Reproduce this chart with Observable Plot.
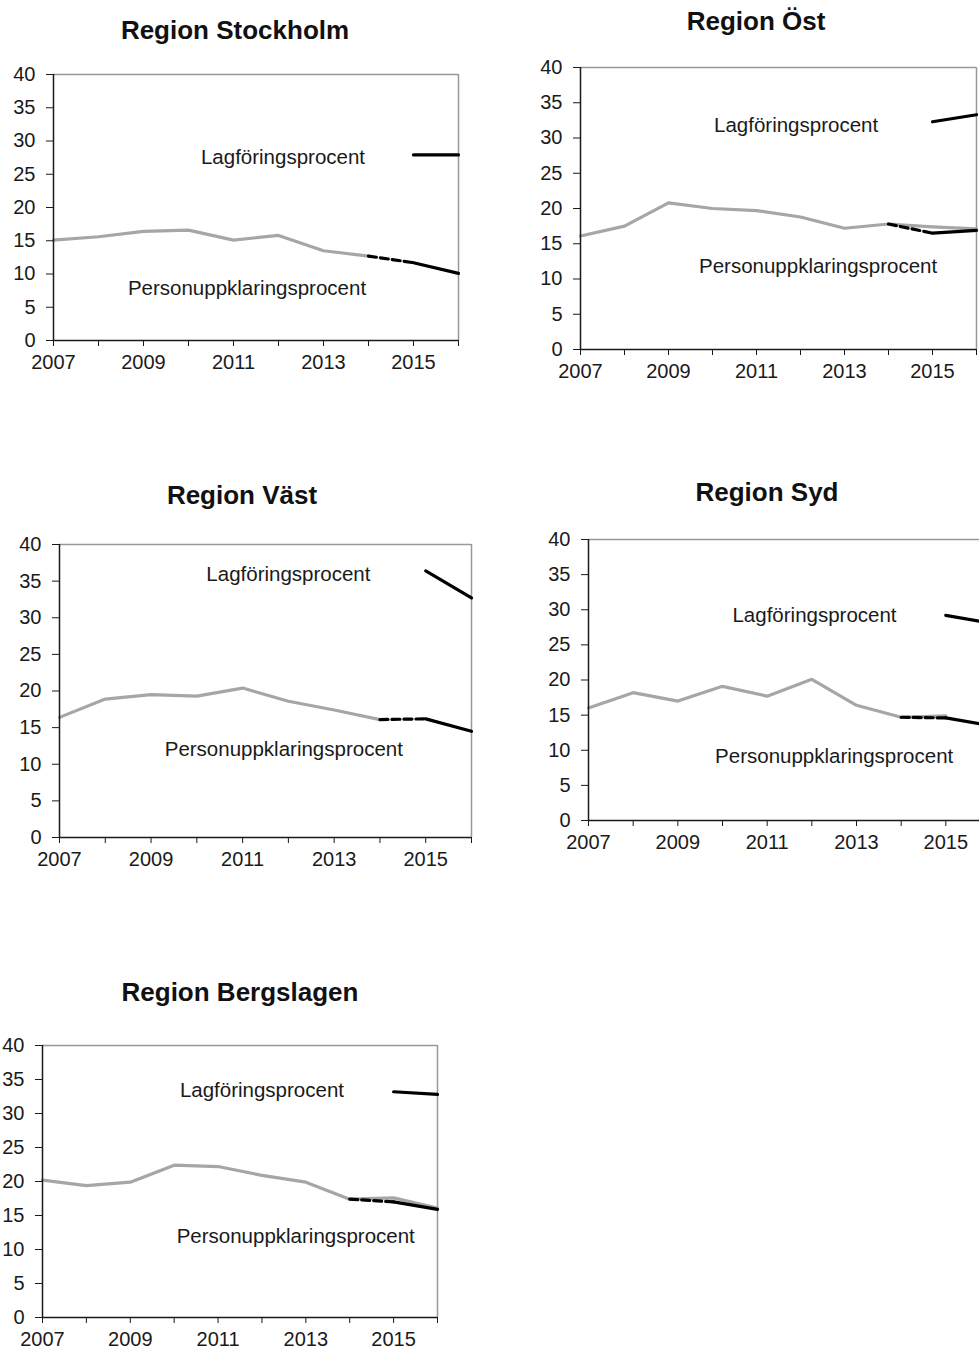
<!DOCTYPE html>
<html>
<head>
<meta charset="utf-8">
<script src="https://cdn.jsdelivr.net/npm/d3@7"></script>
<script src="https://cdn.jsdelivr.net/npm/@observablehq/plot@0.6"></script>
<style>
  html, body { margin: 0; padding: 0; background: #fff; }
  #page { position: relative; width: 979px; height: 1354px; overflow: hidden; background: #fff;
          font-family: "Liberation Sans", Arial, sans-serif; }
  .panel { position: absolute; }
  .panel svg { max-width: none !important; display: block; }
  .title { position: absolute; transform: translate(-50%, -50%); font-weight: bold; font-size: 26px;
           line-height: 26px; white-space: nowrap; color: #111; }
</style>
</head>
<body>
<div id="page"></div>
<script>
// ---------- data ----------
const years = [2007, 2008, 2009, 2010, 2011, 2012, 2013, 2014, 2015, 2016];
const newYears = [2015, 2016];
const yTicks = [0, 5, 10, 15, 20, 25, 30, 35, 40];
const regions = ["Region Stockholm", "Region Öst", "Region Väst", "Region Syd", "Region Bergslagen"];
const labelLag = "Lagföringsprocent";
const labelPers = "Personuppklaringsprocent";

// Personuppklaringsprocent, old series (grey), from 2007
const persOldStockholm = [15.1, 15.6, 16.4, 16.6, 15.1, 15.8, 13.5, 12.7];
const persOldOst       = [16.1, 17.5, 20.8, 20.0, 19.7, 18.8, 17.2, 17.8, 17.4, 17.1];
const persOldVast      = [16.4, 18.9, 19.5, 19.3, 20.4, 18.6, 17.4, 16.1];
const persOldSyd       = [16.0, 18.2, 17.0, 19.1, 17.7, 20.1, 16.4, 14.7, 14.9];
const persOldBerg      = [20.2, 19.4, 19.9, 22.4, 22.2, 20.9, 19.9, 17.4, 17.6, 16.1];

// Personuppklaringsprocent, new series (black), 2015–2016
const persNewStockholm = [11.7, 10.1];
const persNewOst       = [16.5, 16.9];
const persNewVast      = [16.2, 14.5];
const persNewSyd       = [14.6, 13.5];
const persNewBerg      = [17.0, 15.9];

// Lagföringsprocent (black), 2015–2016
const lagStockholm = [27.9, 27.9];
const lagOst       = [32.3, 33.3];
const lagVast      = [36.4, 32.7];
const lagSyd       = [29.2, 28.1];
const lagBerg      = [33.2, 32.8];

const persOld = [persOldStockholm, persOldOst, persOldVast, persOldSyd, persOldBerg];
const persNew = [persNewStockholm, persNewOst, persNewVast, persNewSyd, persNewBerg];
const lag = [lagStockholm, lagOst, lagVast, lagSyd, lagBerg];

// ---------- layout (pixel frames of each panel + label anchors in data units) ----------
const layout = [
  {left: 53,  right: 458, top: 74,   bottom: 340,  tx: 235, ty: 30,  lagAt: [2012.1, 27.3], persAt: [2011.3, 7.6]},
  {left: 580, right: 976, top: 67,   bottom: 349,  tx: 756, ty: 21,  lagAt: [2011.9, 31.5], persAt: [2012.4, 11.5]},
  {left: 59,  right: 471, top: 544,  bottom: 837,  tx: 242, ty: 495, lagAt: [2012.0, 35.6], persAt: [2011.9, 11.7]},
  {left: 588, right: 990, top: 539,  bottom: 820,  tx: 767, ty: 492, lagAt: [2012.06, 28.9], persAt: [2012.5, 8.8]},
  {left: 42,  right: 437, top: 1045, bottom: 1317, tx: 240, ty: 992, lagAt: [2012.0, 33.1], persAt: [2012.77, 11.6]}
];

const page = document.getElementById("page");
const mL = 60, mR = 20, mT = 12, mB = 45;

regions.forEach((name, i) => {
  const L = layout[i];
  const oldData = persOld[i].map((v, k) => ({year: years[k], value: v}));
  const i2014 = years.indexOf(2014);
  const linkData = [
    {year: 2014, value: persOld[i][i2014]},
    {year: newYears[0], value: persNew[i][0]}
  ];
  const newData = newYears.map((y, k) => ({year: y, value: persNew[i][k]}));
  const lagData = newYears.map((y, k) => ({year: y, value: lag[i][k]}));
  const labels = [
    {x: L.lagAt[0], y: L.lagAt[1], text: labelLag},
    {x: L.persAt[0], y: L.persAt[1], text: labelPers}
  ];

  const w = (L.right - L.left) + mL + mR;
  const h = (L.bottom - L.top) + mT + mB;

  const chart = Plot.plot({
    width: w, height: h,
    marginLeft: mL, marginRight: mR, marginTop: mT, marginBottom: mB,
    x: {domain: [2007, 2016]},
    y: {domain: [0, 40]},
    style: {fontFamily: "'Liberation Sans', Arial, sans-serif", fontSize: "20px", color: "#1a1a1a",
            background: "transparent", overflow: "visible"},
    marks: [
      Plot.ruleY([40], {stroke: "#999", strokeWidth: 1.5}),
      Plot.ruleX([2016], {stroke: "#999", strokeWidth: 1.5}),
      Plot.lineY(oldData, {x: "year", y: "value", stroke: "#a6a6a6", strokeWidth: 3.2}),
      Plot.lineY(linkData, {x: "year", y: "value", stroke: "#000", strokeWidth: 3.2, strokeDasharray: "8,4"}),
      Plot.lineY(newData, {x: "year", y: "value", stroke: "#000", strokeWidth: 3.2}),
      Plot.lineY(lagData, {x: "year", y: "value", stroke: "#000", strokeWidth: 3.2}),
      Plot.text(labels, {x: "x", y: "y", text: "text", fontSize: 20.5, fill: "#1a1a1a", textAnchor: "middle", dy: -2}),
      Plot.axisY({ticks: yTicks, tickSize: 7, tickPadding: 11, label: null, stroke: "#1a1a1a",
                  fontSize: 20, fill: "#1a1a1a"}),
      Plot.axisX({ticks: years, tickSize: 6, tickPadding: 8, label: null, stroke: "#1a1a1a",
                  fontSize: 20, fill: "#1a1a1a",
                  tickFormat: d => (d % 2 === 1 ? String(d) : "")}),
      Plot.ruleX([2007], {stroke: "#1a1a1a", strokeWidth: 1.5}),
      Plot.ruleY([0], {stroke: "#1a1a1a", strokeWidth: 1.5})
    ]
  });

  const div = document.createElement("div");
  div.className = "panel";
  div.style.left = (L.left - mL) + "px";
  div.style.top = (L.top - mT) + "px";
  div.style.width = w + "px";
  div.style.height = h + "px";
  div.appendChild(chart);
  page.appendChild(div);

  const t = document.createElement("div");
  t.className = "title";
  t.style.left = L.tx + "px";
  t.style.top = L.ty + "px";
  t.textContent = name;
  page.appendChild(t);
});
</script>
</body>
</html>
